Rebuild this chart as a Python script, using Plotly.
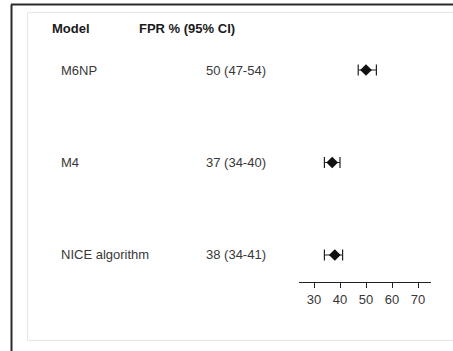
import plotly.graph_objects as go

# Forest plot data: false positive rate (%) with 95% confidence intervals
models = ["M6NP", "M4", "NICE algorithm"]
fpr = [50, 37, 38]
ci_low = [47, 34, 34]
ci_high = [54, 40, 41]
tick_vals = [30, 40, 50, 60, 70]

W, H = 453, 351
row_pos = [2, 1, 0]  # top to bottom

def px(x):
    return x / W

def py(y):
    return 1 - y / H

labels = [f"{v} ({lo}-{hi})" for v, lo, hi in zip(fpr, ci_low, ci_high)]

fig = go.Figure()
fig.add_trace(go.Scatter(
    x=fpr,
    y=row_pos,
    mode="markers",
    marker=dict(symbol="diamond", size=9, color="#111111"),
    error_x=dict(
        type="data",
        symmetric=False,
        array=[h - v for h, v in zip(ci_high, fpr)],
        arrayminus=[v - l for v, l in zip(fpr, ci_low)],
        color="#222222",
        thickness=1.2,
        width=5.5,
    ),
    showlegend=False,
    hoverinfo="skip",
))

font_family = "Liberation Sans, Arial, sans-serif"

annotations = [
    dict(text="<b>Model</b>", x=px(50), y=py(29), xref="paper", yref="paper",
         xanchor="left", yanchor="middle", showarrow=False,
         font=dict(size=13, color="#1a1a1a", family=font_family)),
    dict(text="<b>FPR % (95% CI)</b>", x=px(137), y=py(29), xref="paper", yref="paper",
         xanchor="left", yanchor="middle", showarrow=False,
         font=dict(size=13, color="#1a1a1a", family=font_family)),
]
for name, lab, r in zip(models, labels, row_pos):
    annotations.append(dict(text=name, x=px(59), y=r, xref="paper", yref="y",
                            xanchor="left", yanchor="middle", showarrow=False,
                            font=dict(size=13, color="#383838", family=font_family)))
    annotations.append(dict(text=lab, x=px(204), y=r, xref="paper", yref="y",
                            xanchor="left", yanchor="middle", showarrow=False,
                            font=dict(size=13, color="#383838", family=font_family)))

shapes = [
    # light panel frame
    dict(type="rect", xref="paper", yref="paper",
         x0=px(27.5), x1=px(460), y0=py(340.5), y1=py(12.5),
         line=dict(color="#e6e6e6", width=1), fillcolor="rgba(0,0,0,0)", layer="below"),
    # dark outer border (left and top)
    dict(type="line", xref="paper", yref="paper",
         x0=px(11.5), x1=px(11.5), y0=py(360), y1=py(4.5),
         line=dict(color="#2a2a2a", width=2)),
    dict(type="line", xref="paper", yref="paper",
         x0=px(11), x1=px(460), y0=py(4.5), y1=py(4.5),
         line=dict(color="#2a2a2a", width=2)),
]

fig.update_layout(
    width=W, height=H,
    margin=dict(l=0, r=0, t=0, b=0),
    paper_bgcolor="white",
    plot_bgcolor="white",
    font=dict(family=font_family, size=13, color="#383838"),
    annotations=annotations,
    shapes=shapes,
    xaxis=dict(
        domain=[px(299), px(431)],
        range=[24.23, 75],
        tickvals=tick_vals,
        ticks="outside",
        ticklen=5,
        tickwidth=1.2,
        tickcolor="#222222",
        showline=True,
        linecolor="#222222",
        linewidth=1.3,
        showgrid=False,
        zeroline=False,
        tickfont=dict(size=13, color="#383838", family=font_family),
        fixedrange=True,
    ),
    yaxis=dict(
        domain=[py(282), 1],
        range=[-0.292, 2.757],
        visible=False,
        showgrid=False,
        zeroline=False,
        fixedrange=True,
    ),
)

fig.write_html("out.html")
